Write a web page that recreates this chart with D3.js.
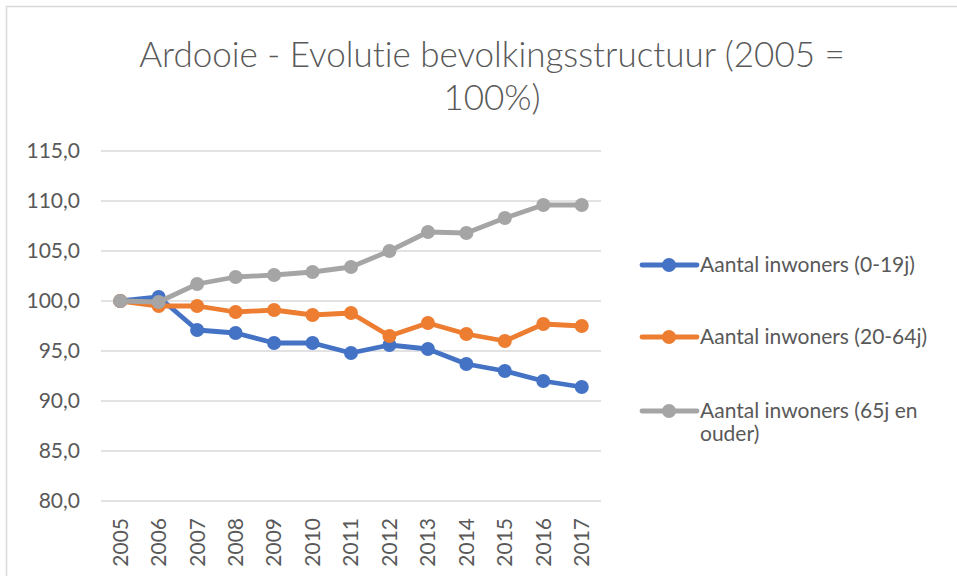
<!DOCTYPE html>
<html>
<head>
<meta charset="utf-8">
<script src="https://cdn.jsdelivr.net/npm/d3@7"></script>
<style>
  body { margin: 0; background: #fff; }
  svg { display: block; font-family: Lato, "Open Sans", sans-serif; font-variant-ligatures: none; }
</style>
</head>
<body>
<div id="plot"></div>
<script>
// data
var years = ["2005", "2006", "2007", "2008", "2009", "2010", "2011", "2012", "2013", "2014", "2015", "2016", "2017"];
var young = [100.0, 100.4, 97.1, 96.8, 95.8, 95.8, 94.8, 95.6, 95.2, 93.7, 93.0, 92.0, 91.4];
var adult = [100.0, 99.5, 99.5, 98.9, 99.1, 98.6, 98.8, 96.5, 97.8, 96.7, 96.0, 97.7, 97.5];
var senior = [100.0, 99.9, 101.7, 102.4, 102.6, 102.9, 103.4, 105.0, 106.9, 106.8, 108.3, 109.6, 109.6];
var seriesNames = ["Aantal inwoners (0-19j)", "Aantal inwoners (20-64j)", "Aantal inwoners (65j en ouder)"];
var yTicks = [80, 85, 90, 95, 100, 105, 110, 115];

var colors = ["#4472C4", "#ED7D31", "#A5A5A5"];
var allSeries = [young, adult, senior];

var W = 957, H = 576;
var margin = {top: 151, left: 101, right: 356, bottom: 75};
var labelFont = "21px";

var svg = d3.select("#plot").append("svg")
    .attr("width", W)
    .attr("height", H);

// chart frame
svg.append("rect")
    .attr("x", 6.5).attr("y", 6.5)
    .attr("width", W + 10).attr("height", H + 10)
    .attr("fill", "none")
    .attr("stroke", "#D9D9D9")
    .attr("stroke-width", 1.5);

var x = d3.scaleBand()
    .domain(years)
    .range([margin.left, W - margin.right]);

var y = d3.scaleLinear()
    .domain([80, 115])
    .range([H - margin.bottom, margin.top]);

// title
var title = svg.append("text")
    .attr("text-anchor", "middle")
    .attr("fill", "#595959")
    .style("font-size", "35px")
    .style("font-weight", 300);
title.append("tspan").attr("x", 492).attr("y", 67).text("Ardooie - Evolutie bevolkingsstructuur (2005 =");
title.append("tspan").attr("x", 492).attr("y", 110).text("100%)");

// gridlines
svg.append("g")
    .selectAll("line")
    .data(yTicks)
    .enter().append("line")
      .attr("x1", margin.left)
      .attr("x2", W - margin.right)
      .attr("y1", function(d) { return y(d); })
      .attr("y2", function(d) { return y(d); })
      .attr("stroke", "#D9D9D9")
      .attr("stroke-width", 1.3);

// y axis
var yAxis = d3.axisLeft(y)
    .tickValues(yTicks)
    .tickSize(0)
    .tickPadding(21)
    .tickFormat(function(d) { return d3.format(".1f")(d).replace(".", ","); });

svg.append("g")
    .attr("transform", "translate(" + margin.left + ",0)")
    .call(yAxis)
    .call(function(g) { g.select(".domain").remove(); })
    .selectAll("text")
      .attr("fill", "#595959")
      .style("font-size", labelFont)
      .style("font-family", "Lato, 'Open Sans', sans-serif");

// x axis
var xAxis = d3.axisBottom(x).tickSize(0).tickPadding(0);

svg.append("g")
    .attr("transform", "translate(0," + (H - margin.bottom) + ")")
    .call(xAxis)
    .call(function(g) { g.select(".domain").remove(); })
    .selectAll("text")
      .attr("fill", "#595959")
      .style("font-size", labelFont)
      .style("font-family", "Lato, 'Open Sans', sans-serif")
      .attr("transform", "rotate(-90)")
      .attr("x", -17)
      .attr("y", 0)
      .attr("dy", ".35em")
      .style("text-anchor", "end");

var line = d3.line()
    .x(function(d, i) { return x(years[i]) + x.bandwidth() / 2; })
    .y(function(d) { return y(d); });

allSeries.forEach(function(vals, s) {
    svg.append("path")
        .datum(vals)
        .attr("fill", "none")
        .attr("stroke", colors[s])
        .attr("stroke-width", 4.8)
        .attr("stroke-linejoin", "round")
        .attr("d", line);

    svg.append("g")
        .selectAll("circle")
        .data(vals)
        .enter().append("circle")
          .attr("cx", function(d, i) { return x(years[i]) + x.bandwidth() / 2; })
          .attr("cy", function(d) { return y(d); })
          .attr("r", 7)
          .attr("fill", colors[s]);
});

// legend
var legendY = [265, 337, 411];
var legend = svg.selectAll(".legend")
    .data(seriesNames)
    .enter().append("g")
      .attr("class", "legend")
      .attr("transform", function(d, i) { return "translate(0," + legendY[i] + ")"; });

legend.append("line")
    .attr("x1", 642).attr("x2", 697)
    .attr("stroke", function(d, i) { return colors[i]; })
    .attr("stroke-width", 4.8)
    .attr("stroke-linecap", "round");

legend.append("circle")
    .attr("cx", 669)
    .attr("r", 7)
    .attr("fill", function(d, i) { return colors[i]; });

var legendText = legend.append("text")
    .attr("fill", "#595959")
    .style("font-size", labelFont)
    .attr("dy", ".35em");

legendText.each(function(d, i) {
    var t = d3.select(this);
    if (i === 2) {
        t.append("tspan").attr("x", 700).attr("y", 0).text("Aantal inwoners (65j en");
        t.append("tspan").attr("x", 700).attr("y", 30).text("ouder)");
    } else {
        t.append("tspan").attr("x", 700).attr("y", 0).text(d);
    }
});
</script>
</body>
</html>
